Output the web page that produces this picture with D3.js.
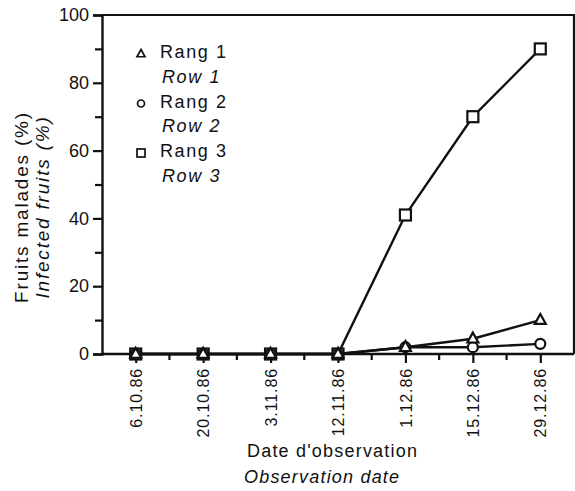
<!DOCTYPE html>
<html><head><meta charset="utf-8">
<script src="https://cdn.jsdelivr.net/npm/d3@7"></script>
<style>body{margin:0;background:#fff}svg{display:block}text{font-family:"Liberation Sans",Arial,sans-serif;fill:#111}</style>
</head><body>
<script>
const dates = ["6.10.86","20.10.86","3.11.86","12.11.86","1.12.86","15.12.86","29.12.86"];
const rang1 = [0,0,0,0,2,4.5,10];
const rang2 = [0,0,0,0,2,2,3];
const rang3 = [0,0,0,0,41,70,90];
const yTicks = [0,20,40,60,80,100];
const yMinor = [10,30,50,70,90];
const legendFr = ["Rang 1","Rang 2","Rang 3"];
const legendEn = ["Row 1","Row 2","Row 3"];
const shapes = ["triangle","circle","square"];

const W=575,H=491, L=102, R=574, T=15, B=354;
const svg = d3.select("body").append("svg").attr("width",W).attr("height",H);
const x = d3.scalePoint().domain(dates).range([L,R]).padding(0.5);
const y = d3.scaleLinear().domain([0,100]).range([B,T]);
const ink="#111";
const FF="Liberation Sans, Arial, sans-serif";

// frame top & right
svg.append("path").attr("d",`M${L},${T}H${R}V${B}`).attr("fill","none").attr("stroke",ink).attr("stroke-width",2.2);

// y axis
const ya = svg.append("g").attr("transform",`translate(${L},0)`)
  .call(d3.axisLeft(y).tickValues(yTicks).tickSize(9).tickPadding(3).tickFormat(d3.format("d")));
ya.select(".domain").attr("stroke",ink).attr("stroke-width",2.4);
ya.selectAll(".tick line").attr("stroke",ink).attr("stroke-width",2.2);
ya.selectAll(".tick text").attr("font-size",18).attr("fill",ink).attr("font-family",FF).attr("dx",-1);
svg.append("g").attr("transform",`translate(${L},0)`)
  .call(d3.axisLeft(y).tickValues(yMinor).tickSize(7).tickFormat(""))
  .call(g=>{g.select(".domain").remove();g.selectAll(".tick line").attr("stroke",ink).attr("stroke-width",2.2);});

// x axis
const xa = svg.append("g").attr("transform",`translate(0,${B})`)
  .call(d3.axisBottom(x).tickSize(9).tickPadding(5));
xa.select(".domain").attr("stroke",ink).attr("stroke-width",2.4).attr("d",`M${L},0H${R}`);
xa.selectAll(".tick line").attr("stroke",ink).attr("stroke-width",2.2);
xa.selectAll(".tick text").attr("font-size",16).attr("fill",ink).attr("letter-spacing",0.9)
  .attr("font-family",FF)
  .attr("transform","rotate(-90)").attr("text-anchor","end").attr("dy","0.35em").attr("x",-14).attr("y",0);
// minor x ticks at midpoints
const mids = dates.slice(0,-1).map((d,i)=>(x(d)+x(dates[i+1]))/2);
svg.append("g").selectAll("line").data(mids).join("line")
  .attr("x1",d=>d).attr("x2",d=>d).attr("y1",B).attr("y2",B+6).attr("stroke",ink).attr("stroke-width",2.2);

// lines
const series = [rang1,rang2,rang3];
const line = d3.line().x((d,i)=>x(dates[i])).y(d=>y(d));
series.forEach(s=>{
  svg.append("path").datum(s).attr("d",line).attr("fill","none").attr("stroke",ink).attr("stroke-width",2.4);
});
function marker(g,shape,cx,cy,sz){
  if(shape==="triangle"){
    const h=sz*0.9;
    g.append("path").attr("d",`M${cx},${cy-h*0.62}L${cx+sz/2},${cy+h*0.38}L${cx-sz/2},${cy+h*0.38}Z`);
  } else if(shape==="circle"){
    g.append("circle").attr("cx",cx).attr("cy",cy).attr("r",sz/2);
  } else {
    g.append("rect").attr("x",cx-sz/2).attr("y",cy-sz/2).attr("width",sz).attr("height",sz);
  }
}
const mg = svg.append("g").attr("fill","#fff").attr("stroke",ink).attr("stroke-width",2.2);
[2,1,0].forEach(k=>{
  series[k].forEach((v,i)=>marker(mg,shapes[k],x(dates[i]),y(v),k===1?10:11));
});

// legend
const lg = svg.append("g");
const lm = lg.append("g").attr("fill","#fff").attr("stroke",ink).attr("stroke-width",1.7);
legendFr.forEach((t,i)=>{
  const by = 58 + i*49.5;
  marker(lm,shapes[i],141,by-4,i===1?7:8);
  lg.append("text").attr("x",160).attr("y",by).attr("font-size",18).attr("letter-spacing",1.6).text(t);
  lg.append("text").attr("x",162).attr("y",by+24.5).attr("font-size",18).attr("letter-spacing",1.6).attr("font-style","italic").text(legendEn[i]);
});

// axis titles
svg.append("text").attr("transform","translate(28,207) rotate(-90)").attr("text-anchor","middle")
  .attr("font-size",19).attr("letter-spacing",1.8).text("Fruits malades (%)");
svg.append("text").attr("transform","translate(49,207) rotate(-90)").attr("text-anchor","middle")
  .attr("font-size",19).attr("letter-spacing",1.8).attr("font-style","italic").text("Infected fruits (%)");
svg.append("text").attr("x",247).attr("y",457).attr("font-size",18).attr("letter-spacing",1.2).text("Date d'observation");
svg.append("text").attr("x",244).attr("y",483).attr("font-size",18).attr("letter-spacing",1.2).attr("font-style","italic").text("Observation date");
</script>
</body></html>
